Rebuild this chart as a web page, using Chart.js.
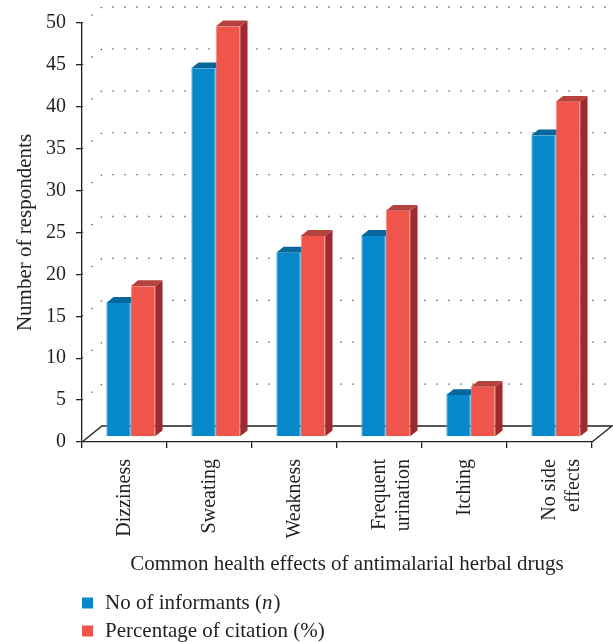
<!DOCTYPE html>
<html>
<head>
<meta charset="utf-8">
<script src="https://cdn.jsdelivr.net/npm/chart.js@4/dist/chart.umd.min.js"></script>
<style>
  html, body { margin: 0; padding: 0; background: #ffffff; }
  canvas { display: block; }
</style>
</head>
<body>
<canvas id="c" width="613" height="642"></canvas>
<script>
// Health effects reported for antimalarial herbal drugs
const categories = ['Dizziness', 'Sweating', 'Weakness', ['Frequent', 'urination'], 'Itching', ['No side', 'effects']];
const informants = [16, 44, 22, 24, 5, 36];
const citationPct = [18, 49, 24, 27, 6, 40];
const yMin = 0, yMax = 50, yStep = 5;

const seriesNames = ['No of informants (', 'Percentage of citation (%)'];
const xTitle = 'Common health effects of antimalarial herbal drugs';
const yTitle = 'Number of respondents';

const SERIF = "'Liberation Serif', 'Times New Roman', serif";
const INK = '#231f20';

// colours of the front, top and side faces of each series
const faces = [
  { front: '#0788ca', edge: '#5fb0dc', top: '#05679b', side: '#045a88' },
  { front: '#ef554b', edge: '#f48a82', top: '#b5423d', side: '#a0292f' }
];

// geometry of the pseudo-3D box
const DEPTH = { x: 20, y: 16 };          // floor depth
const FRONT = { x: 6.25, y: 5 };         // where bar fronts sit inside the floor
const BAR_DEPTH = { x: 7.3, y: 5.8 };    // thickness of each bar

const box3d = {
  id: 'box3d',
  beforeDatasetsDraw(chart) {
    const ctx = chart.ctx;
    const y = chart.scales.y, x = chart.scales.x;
    const L = x.left, R = x.right;

    // dotted back-wall grid lines
    ctx.save();
    ctx.strokeStyle = '#4a4a4a';
    ctx.lineWidth = 1.3;
    ctx.setLineDash([1.3, 10.7]);
    for (let v = yMin + yStep; v <= yMax; v += yStep) {
      const py = y.getPixelForValue(v);
      ctx.beginPath();
      ctx.moveTo(L, py);
      ctx.lineTo(L + DEPTH.x, py - DEPTH.y);
      ctx.lineTo(R + DEPTH.x, py - DEPTH.y);
      ctx.stroke();
    }
    ctx.restore();

    // floor outline
    const fy = y.getPixelForValue(0);
    ctx.save();
    ctx.strokeStyle = INK;
    ctx.lineWidth = 1.3;
    ctx.beginPath();
    ctx.moveTo(L, fy);
    ctx.lineTo(L + DEPTH.x, fy - DEPTH.y);
    ctx.lineTo(R + DEPTH.x, fy - DEPTH.y);
    ctx.lineTo(R, fy);
    ctx.stroke();
    ctx.restore();

    // top and side faces, drawn behind the front faces
    chart.data.datasets.forEach((ds, di) => {
      const meta = chart.getDatasetMeta(di);
      meta.data.forEach(bar => {
        const l = bar.x - bar.width / 2 + FRONT.x;
        const r = bar.x + bar.width / 2 + FRONT.x;
        const t = bar.y - FRONT.y;
        const b = bar.base - FRONT.y;
        ctx.fillStyle = faces[di].side;
        ctx.beginPath();
        ctx.moveTo(r, t);
        ctx.lineTo(r + BAR_DEPTH.x, t - BAR_DEPTH.y);
        ctx.lineTo(r + BAR_DEPTH.x, b - BAR_DEPTH.y);
        ctx.lineTo(r, b);
        ctx.closePath();
        ctx.fill();
        ctx.fillStyle = faces[di].top;
        ctx.beginPath();
        ctx.moveTo(l, t);
        ctx.lineTo(r, t);
        ctx.lineTo(r + BAR_DEPTH.x, t - BAR_DEPTH.y);
        ctx.lineTo(l + BAR_DEPTH.x, t - BAR_DEPTH.y);
        ctx.closePath();
        ctx.fill();
      });
    });

    // the front faces sit a little inside the floor
    ctx.save();
    ctx.translate(FRONT.x, -FRONT.y);
  },
  afterDatasetsDraw(chart) {
    chart.ctx.restore();
  },
  afterDraw(chart) {
    const ctx = chart.ctx;
    ctx.save();
    ctx.fillStyle = INK;
    ctx.textBaseline = 'alphabetic';

    // x-axis title
    ctx.font = '21px ' + SERIF;
    ctx.textAlign = 'center';
    ctx.fillText(xTitle, 347, 570);

    // legend
    ctx.textAlign = 'left';
    const rows = [603, 631];
    rows.forEach((cy, i) => {
      ctx.fillStyle = faces[i].front;
      ctx.fillRect(82, cy - 5.5, 11, 11);
      ctx.fillStyle = INK;
      ctx.font = '21px ' + SERIF;
      const base = cy + 6;
      if (i === 0) {
        let tx = 105;
        ctx.fillText(seriesNames[0], tx, base);
        tx += ctx.measureText(seriesNames[0]).width;
        ctx.font = 'italic 21px ' + SERIF;
        ctx.fillText('n', tx, base);
        tx += ctx.measureText('n').width;
        ctx.font = '21px ' + SERIF;
        ctx.fillText(')', tx + 1, base);
      } else {
        ctx.fillText(seriesNames[1], 105, base);
      }
    });
    ctx.restore();
  }
};

const barStyle = (i) => ({
  backgroundColor: faces[i].front,
  borderColor: faces[i].edge,
  borderWidth: { left: 1, right: 1, top: 0, bottom: 0 },
  borderSkipped: false,
  categoryPercentage: 0.576,
  barPercentage: 1.0,
  clip: false
});

new Chart(document.getElementById('c'), {
  type: 'bar',
  data: {
    labels: categories,
    datasets: [
      Object.assign({ label: 'No of informants (n)', data: informants }, barStyle(0)),
      Object.assign({ label: 'Percentage of citation (%)', data: citationPct }, barStyle(1))
    ]
  },
  options: {
    responsive: false,
    animation: false,
    devicePixelRatio: 1,
    layout: { padding: { top: 23, right: 21, bottom: 0, left: 0 } },
    plugins: {
      legend: { display: false },
      tooltip: { enabled: false }
    },
    scales: {
      x: {
        offset: true,
        grid: { offset: true, drawOnChartArea: false, drawTicks: true, tickLength: 6, color: INK, lineWidth: 1.3 },
        border: { display: true, color: INK, width: 1.3 },
        ticks: { color: INK, font: { family: SERIF, size: 20 }, maxRotation: 90, minRotation: 90, padding: 11 },
        afterFit(scale) { scale.height = 200; }
      },
      y: {
        min: yMin, max: yMax,
        grid: { drawOnChartArea: false, drawTicks: true, tickLength: 6, color: INK, lineWidth: 1.3 },
        border: { display: true, color: INK, width: 1.3 },
        ticks: { stepSize: yStep, color: INK, font: { family: SERIF, size: 20 }, padding: 10 },
        title: { display: true, text: yTitle, color: INK, font: { family: SERIF, size: 21 }, padding: { top: 13, bottom: 0 } },
        afterFit(scale) { scale.width = 82; }
      }
    }
  },
  plugins: [box3d]
});
</script>
</body>
</html>
